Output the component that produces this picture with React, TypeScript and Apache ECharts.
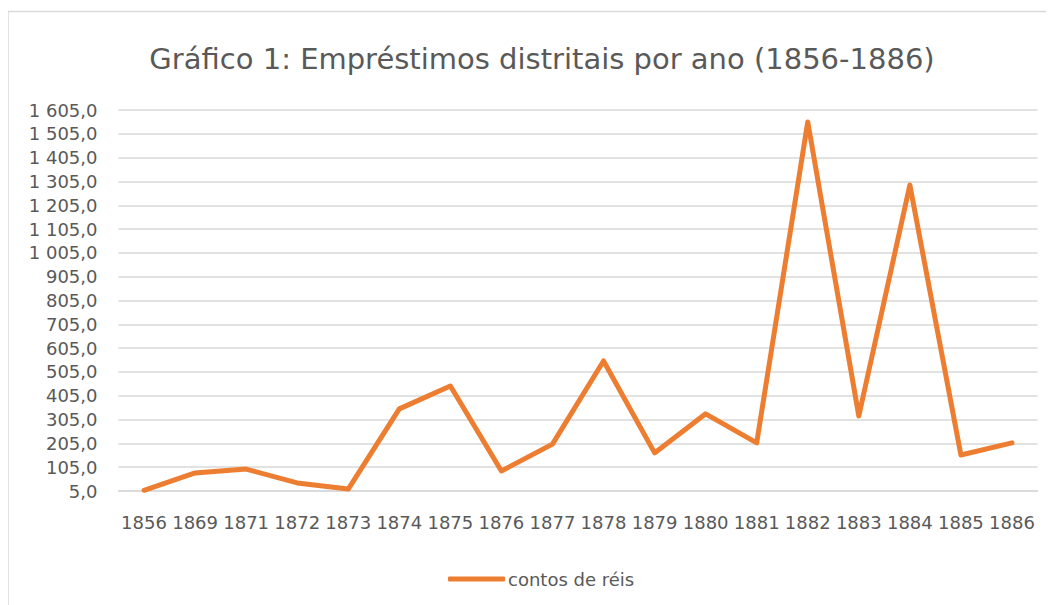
import React, { useEffect, useRef } from "react";
import * as echarts from "echarts";

const titleText = "Gráfico 1: Empréstimos distritais por ano (1856-1886)";
const seriesName = "contos de réis";
const years = ["1856","1869","1871","1872","1873","1874","1875","1876","1877","1878","1879","1880","1881","1882","1883","1884","1885","1886"];
const values = [8, 81, 97, 39, 13, 350, 446, 89, 202, 551, 165, 329, 207, 1555, 320, 1290, 156, 207];
const yMin = 5;
const yMax = 1605;
const yStep = 100;

const fmt = (v: number) => {
  const n = Math.round(v);
  const s = n >= 1000 ? Math.floor(n / 1000) + " " + String(n % 1000).padStart(3, "0") : String(n);
  return s + ",0";
};

export default function App() {
  const ref = useRef<HTMLDivElement>(null);
  useEffect(() => {
    if (!ref.current) return;
    const chart = echarts.init(ref.current, null, { renderer: "svg" });
    const font = "'DejaVu Sans', sans-serif";
    chart.setOption({
      animation: false,
      backgroundColor: "#ffffff",
      textStyle: { fontFamily: font },
      graphic: [
        {
          type: "rect",
          shape: { x: 0, y: 3.5, width: 2000, height: 2000 },
          style: { fill: "none", stroke: "#d9d9d9", lineWidth: 1.5 },
          silent: true,
        },
      ],
      title: {
        text: titleText,
        left: 529,
        textAlign: "center",
        top: 31,
        textStyle: { fontFamily: font, fontSize: 29, fontWeight: "normal", color: "#595959" },
      },
      legend: {
        data: [seriesName],
        left: 435,
        top: 557,
        itemWidth: 57,
        itemHeight: 5,
        itemGap: 5,
        icon: "roundRect",
        textStyle: { fontFamily: font, fontSize: 18, color: "#595959", padding: [0, 0, 0, -2] },
      },
      grid: { left: 110.5, right: 16.5, top: 102, bottom: 114, containLabel: false },
      xAxis: {
        type: "category",
        data: years,
        boundaryGap: true,
        axisLine: { show: true, lineStyle: { color: "#d9d9d9", width: 1.5 } },
        axisTick: { show: false },
        axisLabel: { fontFamily: font, fontSize: 18, color: "#595959", margin: 22, interval: 0 },
        splitLine: { show: false },
      },
      yAxis: {
        type: "value",
        min: yMin,
        max: yMax,
        interval: yStep,
        axisLine: { show: false },
        axisTick: { show: false },
        axisLabel: { fontFamily: font, fontSize: 18, color: "#595959", margin: 21, formatter: fmt },
        splitLine: { show: true, lineStyle: { color: "#d9d9d9", width: 1.5 } },
      },
      series: [
        {
          name: seriesName,
          type: "line",
          data: values,
          symbol: "none",
          lineStyle: { color: "#ED7D31", width: 5, cap: "round", join: "round" },
          itemStyle: { color: "#ED7D31" },
        },
      ],
    });
    return () => chart.dispose();
  }, []);
  return <div ref={ref} style={{ width: 1046, height: 597 }} />;
}
